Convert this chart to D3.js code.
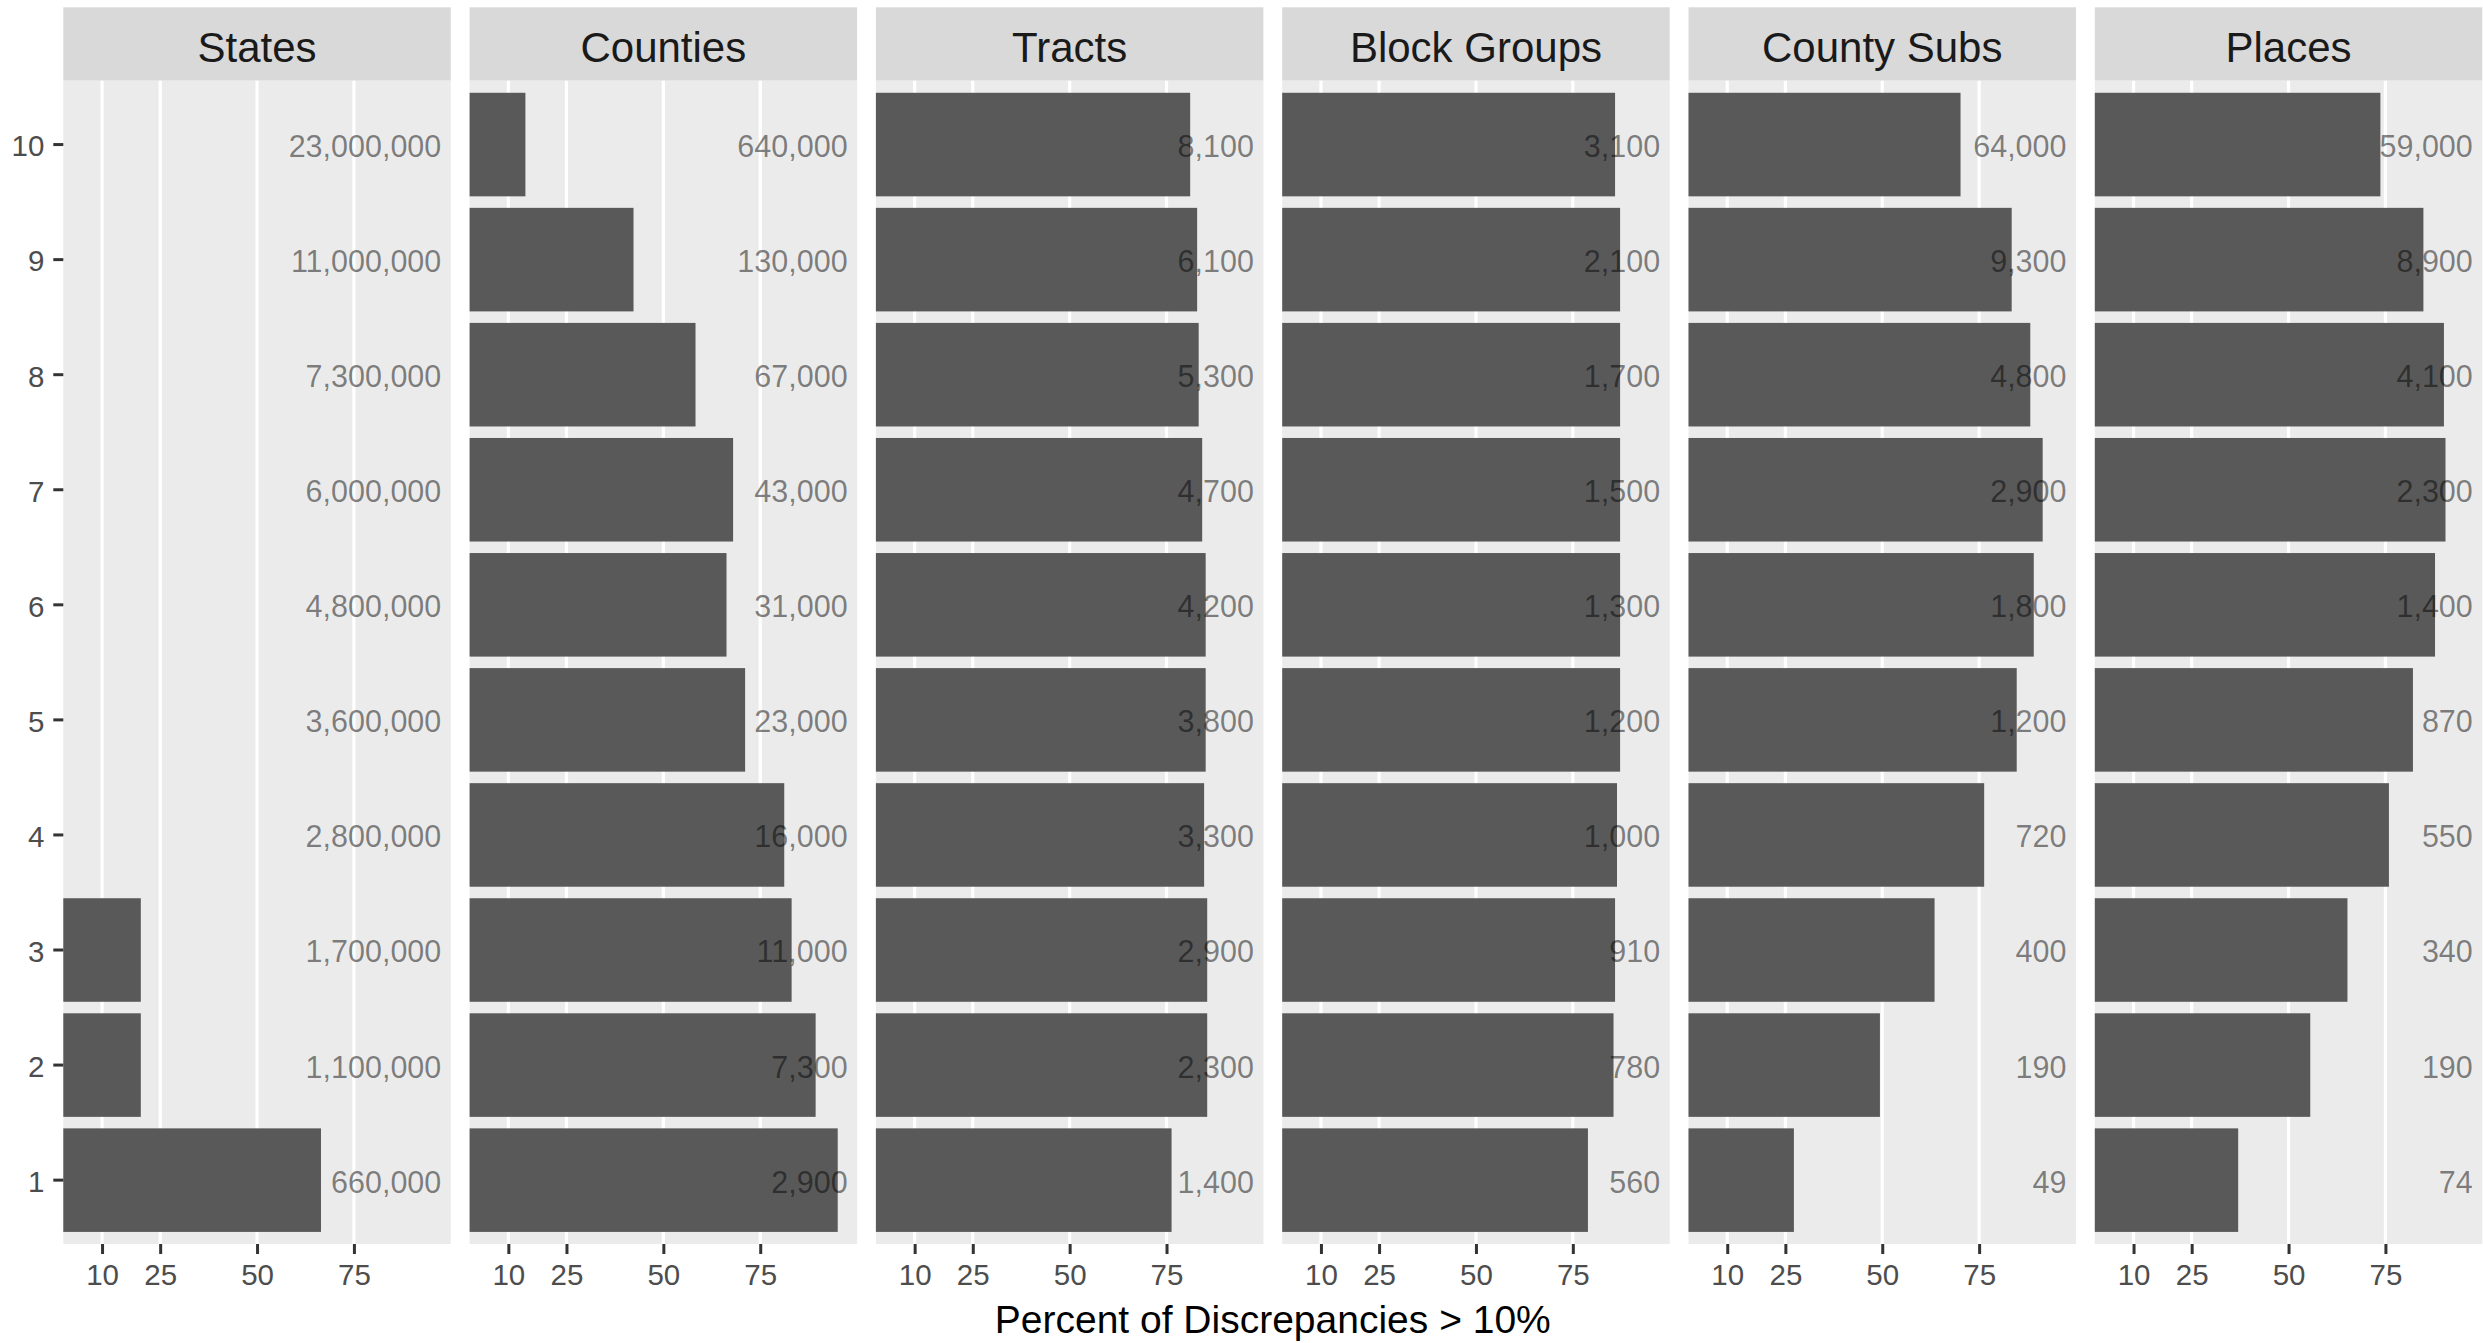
<!DOCTYPE html>
<html>
<head>
<meta charset="utf-8">
<script src="https://cdn.jsdelivr.net/npm/d3@7"></script>
<style>
	body { margin: 0; background: white; }
	svg { display: block; font-family: "Liberation Sans", Arial, sans-serif; }
</style>
</head>
<body>
<div id="chart"></div>
<script>

// deciles, bottom to top
let deciles = [1, 2, 3, 4, 5, 6, 7, 8, 9, 10];
let panelNames = ["States", "Counties", "Tracts", "Block Groups", "County Subs", "Places"];
let xTicks = [10, 25, 50, 75];

// percent of discrepancies > 10%, by decile 1..10
let statesPct = [66.5, 20, 20, 0, 0, 0, 0, 0, 0, 0];
let countiesPct = [95.0, 89.3, 83.1, 81.2, 71.1, 66.3, 68.0, 58.3, 42.3, 14.4];
let tractsPct = [76.3, 85.5, 85.5, 84.7, 85.1, 85.1, 84.2, 83.3, 82.9, 81.1];
let blockGroupsPct = [78.9, 85.5, 85.9, 86.4, 87.2, 87.2, 87.2, 87.2, 87.2, 85.9];
let countySubsPct = [27.2, 49.4, 63.5, 76.3, 84.7, 89.1, 91.4, 88.2, 83.4, 70.2];
let placesPct = [37.0, 55.6, 65.2, 75.9, 82.1, 87.8, 90.5, 90.1, 84.8, 73.7];

// population label shown at the right of each row
let statesPop = [660000, 1100000, 1700000, 2800000, 3600000, 4800000, 6000000, 7300000, 11000000, 23000000];
let countiesPop = [2900, 7300, 11000, 16000, 23000, 31000, 43000, 67000, 130000, 640000];
let tractsPop = [1400, 2300, 2900, 3300, 3800, 4200, 4700, 5300, 6100, 8100];
let blockGroupsPop = [560, 780, 910, 1000, 1200, 1300, 1500, 1700, 2100, 3100];
let countySubsPop = [49, 190, 400, 720, 1200, 1800, 2900, 4800, 9300, 64000];
let placesPop = [74, 190, 340, 550, 870, 1400, 2300, 4100, 8900, 59000];

let pctSeries = [statesPct, countiesPct, tractsPct, blockGroupsPct, countySubsPct, placesPct];
let popSeries = [statesPop, countiesPop, tractsPop, blockGroupsPop, countySubsPop, placesPop];

let panels = panelNames.map((name, i) => ({
	name: name,
	rows: deciles.map((d, j) => ({ decile: d, pct: pctSeries[i][j], pop: popSeries[i][j] }))
}));

// layout
let W = 2483, H = 1343;
let margin = { top: 7.3, left: 63.3 };
let stripH = 73.4;
let panelW = 387.5, panelGap = 18.8;
let panelTop = margin.top + stripH;
let panelBottom = 1244;

let svg = d3.select("#chart").append("svg")
	.attr("width", W)
	.attr("height", H);

// shared scales
let xScale = d3.scaleLinear()
	.domain([0, 100])
	.range([0, panelW]);

let yScale = d3.scaleBand()
	.domain(deciles.slice().reverse())
	.range([panelTop, panelBottom])
	.paddingInner(0.1)
	.paddingOuter(0.105);

let fmt = d3.format(",");

panels.forEach(function (p, i) {
	let g = svg.append("g")
		.attr("transform", "translate(" + (margin.left + i * (panelW + panelGap)) + ",0)");

	// strip
	g.append("rect")
		.attr("x", 0)
		.attr("y", margin.top)
		.attr("width", panelW)
		.attr("height", stripH)
		.attr("fill", "#d9d9d9");
	g.append("text")
		.attr("x", panelW / 2)
		.attr("y", margin.top + stripH / 2 + 3)
		.attr("dy", "0.36em")
		.attr("text-anchor", "middle")
		.style("font-size", "42px")
		.attr("fill", "#1a1a1a")
		.text(p.name);

	// panel background
	g.append("rect")
		.attr("x", 0)
		.attr("y", panelTop)
		.attr("width", panelW)
		.attr("height", panelBottom - panelTop)
		.attr("fill", "#ebebeb");

	// grid lines
	g.selectAll(".grid")
		.data(xTicks)
		.enter().append("line")
		.attr("class", "grid")
		.attr("x1", d => xScale(d))
		.attr("x2", d => xScale(d))
		.attr("y1", panelTop)
		.attr("y2", panelBottom)
		.attr("stroke", "white")
		.attr("stroke-width", 3.2);

	// bars
	g.selectAll(".bar")
		.data(p.rows.filter(d => d.pct > 0))
		.enter().append("rect")
		.attr("class", "bar")
		.attr("x", xScale(0))
		.attr("y", d => yScale(d.decile))
		.attr("width", d => xScale(d.pct) - xScale(0))
		.attr("height", yScale.bandwidth())
		.attr("fill", "#595959");

	// population labels
	g.selectAll(".lbl")
		.data(p.rows)
		.enter().append("text")
		.attr("class", "lbl")
		.attr("x", xScale(100) - 9.5)
		.attr("y", d => yScale(d.decile) + yScale.bandwidth() / 2 + 1.5)
		.attr("dy", "0.36em")
		.attr("text-anchor", "end")
		.style("font-size", "30.5px")
		.attr("fill", "black")
		.attr("fill-opacity", 0.48)
		.text(d => fmt(d.pop));

	// x axis
	let xAxis = d3.axisBottom(xScale)
		.tickValues(xTicks)
		.tickSize(10)
		.tickPadding(10);
	let xg = g.append("g")
		.attr("transform", "translate(0," + panelBottom + ")")
		.call(xAxis);
	xg.select(".domain").remove();
	xg.selectAll("line").attr("stroke", "#333333").attr("stroke-width", 3);
	xg.selectAll("text")
		.attr("fill", "#4d4d4d")
		.style("font-size", "29.5px")
		.style("font-family", "Liberation Sans, Arial, sans-serif");

	// y axis only on the first panel
	if (i === 0) {
		let yAxis = d3.axisLeft(yScale)
			.tickSize(10)
			.tickPadding(9);
		let yg = g.append("g")
			.call(yAxis);
		yg.select(".domain").remove();
		yg.selectAll("line").attr("stroke", "#333333").attr("stroke-width", 3);
		yg.selectAll("text")
			.attr("fill", "#4d4d4d")
			.attr("dy", "0.4em")
			.style("font-size", "29.5px")
			.style("font-family", "Liberation Sans, Arial, sans-serif");
	}
});

// x axis title
let fullW = panelNames.length * panelW + (panelNames.length - 1) * panelGap;
svg.append("text")
	.attr("x", margin.left + fullW / 2)
	.attr("y", 1319)
	.attr("dy", "0.36em")
	.attr("text-anchor", "middle")
	.style("font-size", "39px")
	.attr("fill", "black")
	.text("Percent of Discrepancies > 10%");

</script>
</body>
</html>
